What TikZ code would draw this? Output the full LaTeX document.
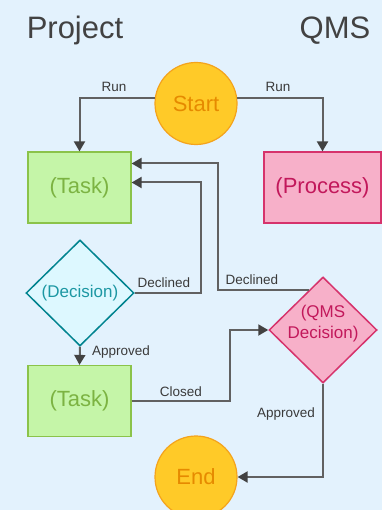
\documentclass[tikz,border=0pt]{standalone}
\usepackage{fontspec}
\setmainfont{Liberation Sans}
\usetikzlibrary{shapes.geometric,arrows.meta,calc}
\definecolor{bgc}{HTML}{E3F2FD}
\definecolor{linec}{HTML}{616161}
\definecolor{tipc}{HTML}{424242}
\definecolor{titlec}{HTML}{424242}
\definecolor{lblc}{HTML}{3A3A3A}
\definecolor{sunfill}{HTML}{FFCA28}
\definecolor{sundraw}{HTML}{F4A31C}
\definecolor{suntext}{HTML}{E68A00}
\definecolor{taskfill}{HTML}{C5F5A8}
\definecolor{taskdraw}{HTML}{8BC34A}
\definecolor{tasktext}{HTML}{7CB342}
\definecolor{pinkfill}{HTML}{F7B0C9}
\definecolor{pinkdraw}{HTML}{D6336C}
\definecolor{pinktext}{HTML}{C2185B}
\definecolor{cyanfill}{HTML}{DDF8FF}
\definecolor{cyandraw}{HTML}{00838F}
\definecolor{cyantext}{HTML}{1C97A3}
\tikzset{
  x=1pt, y=-1pt,
  terminal/.style={circle, minimum size=82pt, inner sep=0pt, fill=sunfill, draw=sundraw, line width=1.2pt, text=suntext, font=\fontsize{22}{26}\selectfont},
  taskbox/.style={rectangle, minimum width=103pt, minimum height=71pt, inner sep=0pt, fill=taskfill, draw=taskdraw, line width=1.2pt, text=tasktext, font=\fontsize{22}{26}\selectfont},
  procbox/.style={rectangle, minimum width=117pt, minimum height=71pt, inner sep=0pt, fill=pinkfill, draw=pinkdraw, line width=1.2pt, text=pinktext, font=\fontsize{22}{26}\selectfont},
  decbox/.style={diamond, minimum width=108pt, minimum height=106pt, inner sep=0pt, line width=1.5pt},
  conn/.style={draw=linec, line width=2pt, -{Triangle[length=10pt,width=11pt,fill=tipc,color=tipc]}},
  lbl/.style={text=lblc, font=\fontsize{13.5}{15}\selectfont, inner sep=0pt},
  ttl/.style={text=titlec, font=\fontsize{31}{36}\selectfont, inner sep=0pt, anchor=base},
}
\begin{document}
\begin{tikzpicture}
\clip (0,0) rectangle (382,510);
\fill[bgc] (0,0) rectangle (382,510);

\node[ttl] (tproj) at (75,39) {Project};
\node[ttl] (tqms) at (335,39) {QMS};

\node[terminal] (start) at (196,103.5) {Start};
\node[taskbox] (task1) at (79.5,187.5) {(Task)};
\node[procbox] (proc) at (322.5,187.5) {(Process)};
\node[decbox, fill=cyanfill, draw=cyandraw,
  label={[text=cyantext, font=\fontsize{17}{20}\selectfont]center:(Decision)}] (dec) at (80,293) {};
\node[decbox, fill=pinkfill, draw=pinkdraw,
  label={[text=pinktext, font=\fontsize{17}{21}\selectfont, align=center, yshift=6pt]center:(QMS\\Decision)}] (qms) at (323,330) {};
\node[taskbox] (task2) at (79.5,401) {(Task)};
\node[terminal] (end) at (196,477) {End};

\draw[conn] (start.172) -| (task1.north);
\draw[conn] (start.8) -| (proc.north);
\draw[conn] (dec.east) -- ++(66,0) |- ([yshift=5pt]task1.east);
\draw[conn] ([shift={(-14.3pt,-14pt)}]qms.north) -- ++(-90.7,0) |- ([yshift=24pt]task1.east);
\draw[conn] (dec.south) -- (task2.north);
\draw[conn] (task2.east) -- ++(98,0) |- (qms.west);
\draw[conn] (qms.south) |- (end.east);

\node[lbl] (lrun1) at (114,87) {Run};
\node[lbl] (lrun2) at (278,87) {Run};
\node[lbl] (ldec1) at (164,283) {Declined};
\node[lbl] (ldec2) at (252,280) {Declined};
\node[lbl] (lapp1) at (121,352) {Approved};
\node[lbl] (lclo) at (181,392) {Closed};
\node[lbl] (lapp2) at (286,414) {Approved};
\end{tikzpicture}
\end{document}
